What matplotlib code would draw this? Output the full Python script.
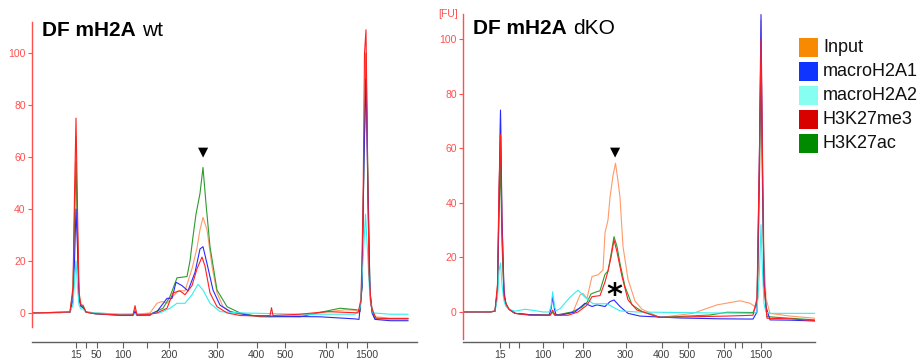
import matplotlib
matplotlib.use("Agg")
import matplotlib.pyplot as plt
from matplotlib.patches import Rectangle

plt.rcParams['font.family'] = ['Liberation Sans', 'DejaVu Sans']

# ---------------- data (migration position, fluorescence FU) ----------------
series_names = ["Input", "macroH2A1", "macroH2A2", "H3K27me3", "H3K27ac"]
legend_colors = ["#f78a00", "#1034ff", "#86fff0", "#d90000", "#008a00"]
line_colors = ["#ff9a6a", "#2a2aff", "#30f0f0", "#ff2020", "#2e9a2e"]

# Left panel: DF mH2A wt
wt_input_x = [32, 60, 70, 73, 74.5, 76, 77.5, 79, 81, 83, 86, 95, 120, 133, 135, 137, 150, 157, 162, 167,
              173, 178, 185, 192, 197, 200, 203, 207, 212, 217, 223, 233, 250, 270, 300, 330, 345, 355,
              360, 362, 364, 366, 368, 370, 372, 375, 390, 408]
wt_input_y = [0, 0, 0.5, 8, 40, 68, 30, 6, 2.5, 2.5, 0.5, 0, -0.5, -0.5, 1.5, -0.5, 0, 3.7, 4.4, 3.7,
              6.3, 8.5, 8.5, 17, 25, 32, 36.8, 32, 18, 7.7, 2.4, 0, -1, -1.5, -1, 0.5, 1.2, 1,
              0.5, 10, 60, 100, 40, 8, 2, -1.5, -2, -2]
wt_mh2a1_x = [32, 70, 73, 74.5, 76, 77.5, 79, 81, 83, 86, 95, 120, 133, 135, 137, 150, 157, 167, 172, 176,
              182, 188, 195, 200, 203, 207, 213, 220, 230, 250, 280, 320, 355, 359, 362, 364, 366, 368,
              370, 372, 375, 390, 408]
wt_mh2a1_y = [0, 0.3, 5, 20, 40, 25, 5, 2.5, 2, 0.3, -0.3, -0.8, -0.8, 0.5, -0.8, -0.5, 0.5, 5.6, 5.6, 11.8,
              10.5, 8.5, 15.6, 24.6, 25.5, 19, 8.8, 3, 0.5, -1, -1.3, -1.5, -2.3, -2.5, 10, 60, 90, 45,
              8, 0, -2.5, -3, -3]
wt_mh2a2_x = [32, 70, 73, 74.5, 76, 77.5, 79, 81, 83, 86, 95, 120, 150, 160, 170, 177, 185, 192, 198, 203,
              210, 220, 240, 300, 355, 360, 363, 365.5, 368, 370, 373, 390, 408]
wt_mh2a2_y = [0, 0.3, 3, 12, 20, 10, 3, 1.5, 1.5, 0.3, 0, -0.5, -0.3, 0, 1.8, 3.7, 3.7, 7, 11, 8.8,
              3.7, 0.5, 0, -0.5, -0.5, 2, 20, 38, 20, 5, 0, -0.5, -0.5]
wt_k27me3_x = [32, 70, 73, 74.5, 76, 77.5, 79, 81, 83, 86, 95, 120, 133, 135, 137, 150, 157, 167, 173, 180,
               185, 192, 197, 202, 205, 210, 217, 227, 240, 260, 270, 271.5, 273, 300, 327, 353, 358, 361,
               363, 364.5, 366, 367.5, 369, 371, 373, 376, 390, 408]
wt_k27me3_y = [0, 0.3, 10, 45, 75, 40, 8, 3, 3, 0.3, -0.3, -0.8, -0.8, 2.8, -0.8, -0.5, 0, 1.8, 7.7, 8.5,
               7, 10.5, 17, 21.5, 18, 7.7, 2.4, 0, -1, -1.2, -1, 2, -1, -0.5, 0.5, 0.1, 0, 5,
               40, 100, 109, 60, 15, 3, 0.5, -2, -2.2, -2.2]
wt_k27ac_x = [32, 70, 73, 74.5, 76, 77.5, 79, 81, 83, 86, 95, 120, 133, 135, 137, 150, 153, 163, 170, 177,
              187, 190, 193, 196, 200, 203, 206, 210, 217, 227, 240, 260, 300, 330, 340, 357, 360, 362,
              364, 366, 368, 370, 372, 375, 390, 408]
wt_k27ac_y = [0, 0.3, 8, 35, 58, 30, 6, 2.5, 2.5, 0.3, -0.3, -1, -1, 0.5, -1, -1, 0, 1.8, 6.3, 13.5,
              14, 20, 29.4, 38, 46, 56, 42, 25.5, 8.8, 2.4, 0, -1.5, -1.5, 1, 1.8, 1.2, 0.5, 10,
              60, 100, 50, 8, 1, -2.3, -2.3, -2.3]

# Right panel: DF mH2A dKO
ko_input_x = [463, 490, 495, 497.5, 499, 500.5, 502, 504, 506, 509, 515, 530, 550, 552, 554, 560, 573, 580,
              583, 587, 592, 598, 603, 605, 608, 610, 613, 615.5, 618, 620, 623, 628, 635, 642, 660, 693,
              717, 740, 750, 755, 758, 759.5, 761, 762.5, 764, 766, 770, 790, 815]
ko_input_y = [0, 0, 0.5, 10, 45, 73, 35, 6, 3, 1, -0.5, -1, -1, 0, -1, -1, 0, 6.2,
              6.8, 5, 13, 13.6, 15.4, 29, 33.7, 42, 50, 54.5, 48, 42, 24, 12, 4, 1, -2, -0.5,
              2.6, 4.1, 3.2, 2, 5, 50, 107, 60, 20, 5, -0.5, -1.5, -2.3]
ko_mh2a1_x = [463, 490, 495, 497.5, 499, 500.5, 502, 504, 506, 509, 515, 530, 549, 551, 552.7, 554.5, 556,
              560, 575, 585, 592, 597, 605, 610, 614, 620, 628, 640, 680, 720, 753, 757, 759.5, 761,
              762.5, 764, 766, 770, 790, 815]
ko_mh2a1_y = [0, 0, 0.3, 8, 40, 74, 34, 8, 2.5, 1, -0.5, -1, -1.2, 1, 5.6, 1, -1,
              -1.2, 0, 3.2, 2, 2.6, 2, 3.8, 4.4, 2, -0.5, -1.5, -2.2, -2.5, -2.6, 0, 60, 109,
              50, 12, 2, -2.9, -3, -3.3]
ko_mh2a2_x = [463, 490, 495, 497.5, 499, 500.5, 502, 504, 506, 509, 515, 525, 535, 543, 549, 551, 552.7,
              554.5, 556, 560, 570, 578, 585, 593, 607, 613, 620, 637, 700, 753, 757, 759.5, 761, 762.5,
              764, 766, 770, 790, 815]
ko_mh2a2_y = [0, 0, 0.3, 5, 15, 18, 10, 4, 2, 1, 0.3, 1, 0.5, 0, 0, 2, 7.4,
              2, 0.5, 1.2, 5.4, 8, 5.4, 3, 3, 1.8, 0.4, 0, -0.3, -0.5, 0, 15, 32, 15,
              3, 0, -0.5, -0.5, -0.5]
ko_k27me3_x = [463, 490, 495, 497.5, 499, 500.5, 502, 504, 506, 509, 515, 530, 550, 552.7, 555, 568, 578,
               587, 592, 600, 605, 608, 611, 614, 617, 622, 628, 637, 660, 727, 753, 757, 759.5, 761,
               762.5, 764, 767, 790, 815]
ko_k27me3_y = [0, 0, 0.3, 10, 45, 65, 30, 6, 3, 1, -0.5, -1.2, -1.2, 0.7, -1.2, -1.2, 0,
               2.5, 5.6, 6, 11, 15, 20, 26.4, 22, 13, 4.4, 0.7, -2, -1.5, -1.2, 5, 60, 99.6,
               55, 10, -2.3, -2.5, -3.2]
ko_k27ac_x = [463, 490, 495, 497.5, 499, 500.5, 502, 504, 506, 509, 515, 530, 550, 552.7, 555, 572, 582,
              587, 591, 595, 600, 605, 608, 611, 614, 617, 620, 625, 632, 642, 660, 710, 727, 753, 757,
              759.5, 761, 762.5, 764, 767, 790, 815]
ko_k27ac_y = [0, 0, 0.3, 8, 35, 55, 25, 6, 3, 1, -0.5, -1, -1.2, 0, -1.2, 0, 1.8,
              3.5, 6.6, 7.2, 7.8, 13.8, 15, 21, 27.6, 24, 17.8, 9.3, 2.6, 0.2, -2, -1.1, -0.1, -0.2, 3,
              50, 93, 45, 10, -1.7, -2.3, -2.9]

# size ladder ticks (bp) and their migration positions
wt_tick_pos = [76.3, 86.3, 96.7, 123, 146.7, 169.3, 216.7, 256.7, 285, 325.7, 337.7, 346.7, 366.7]
ko_tick_pos = [500.3, 509.3, 519.3, 543, 563.3, 583.3, 625.7, 661.7, 687.7, 724.3, 735, 741.7, 760.7]
wt_tick_labels = ["15", "", "50", "100", "", "200", "300", "400", "500", "700", "", "", "1500"]
ko_tick_labels = ["15", "", "", "100", "", "200", "300", "400", "500", "700", "", "", "1500"]
y_ticks = [0, 20, 40, 60, 80, 100]

wt_series = [(wt_input_x, wt_input_y), (wt_mh2a1_x, wt_mh2a1_y), (wt_mh2a2_x, wt_mh2a2_y),
             (wt_k27me3_x, wt_k27me3_y), (wt_k27ac_x, wt_k27ac_y)]
ko_series = [(ko_input_x, ko_input_y), (ko_mh2a1_x, ko_mh2a1_y), (ko_mh2a2_x, ko_mh2a2_y),
             (ko_k27me3_x, ko_k27me3_y), (ko_k27ac_x, ko_k27ac_y)]

# ---------------- figure ----------------
W, H = 920, 359
fig = plt.figure(figsize=(W / 100, H / 100), dpi=100)

def px_axes(l, t, r, b):
    return fig.add_axes([l / W, (H - b) / H, (r - l) / W, (b - t) / H])

ax1 = px_axes(32, 22, 417, 342)
ax2 = px_axes(463, 14, 815, 342)

draw_order = [0, 4, 1, 2, 3]
axis_red = "#ff5050"

def style(ax, xlim, ylim, tpos, tlab, spine_low):
    ax.set_xlim(*xlim)
    ax.set_ylim(*ylim)
    for s in ["top", "right"]:
        ax.spines[s].set_visible(False)
    ax.spines["left"].set_color(axis_red)
    ax.spines["left"].set_linewidth(1.0)
    ax.spines["left"].set_bounds(spine_low, ylim[1])
    ax.spines["bottom"].set_color("#606060")
    ax.spines["bottom"].set_linewidth(1.0)
    ax.set_yticks(y_ticks)
    ax.set_yticklabels([str(v) for v in y_ticks])
    ax.tick_params(axis="y", colors=axis_red, labelcolor=axis_red, labelsize=7.5,
                   length=3, width=0.8, pad=1.5)
    ax.set_xticks(tpos)
    ax.set_xticklabels(tlab)
    ax.tick_params(axis="x", colors="#606060", labelcolor="#404040", labelsize=7.5,
                   length=4, width=0.8, pad=2)
    ax.patch.set_alpha(0)

for ax, series in [(ax1, wt_series), (ax2, ko_series)]:
    for i in draw_order:
        xs, ys = series[i]
        ax.plot(xs, ys, color=line_colors[i], lw=0.8, solid_joinstyle="round")

style(ax1, (32, 417), (-11.2, 112), wt_tick_pos, wt_tick_labels, -5.4)
style(ax2, (463, 815), (-11.0, 109.2), ko_tick_pos, ko_tick_labels, -10)

# titles: bold part followed by regular part, placed after measured width
renderer = fig.canvas.get_renderer()

def title(x_px, y_px, bold, regular, gap_px=6):
    t = fig.text(x_px / W, 1 - y_px / H, bold, fontsize=15, fontweight="bold", va="center", ha="left")
    bb = t.get_window_extent(renderer=renderer)
    fig.text((bb.x1 + gap_px) / W, 1 - y_px / H, regular, fontsize=15, va="center", ha="left")

title(42, 30, "DF mH2A", "wt")
title(473, 28, "DF mH2A", "dKO")
fig.text(448 / W, 1 - 14 / H, "[FU]", fontsize=7.5, color=axis_red, va="center", ha="center")

# annotations
ax1.text(203, 62, "▼", fontsize=9.5, ha="center", va="center", family="DejaVu Sans")
ax2.text(615.5, 58.6, "▼", fontsize=9.5, ha="center", va="center", family="DejaVu Sans")
ax2.text(614, 6.0, "*", fontsize=22, fontweight="bold", ha="center", va="center", family="DejaVu Sans")

# legend
for k, (name, col) in enumerate(zip(series_names, legend_colors)):
    top = 38.3 + k * 24
    fig.patches.append(Rectangle((799 / W, 1 - (top + 19) / H), 19 / W, 19 / H,
                                 transform=fig.transFigure, facecolor=col, edgecolor="none"))
    fig.text(823 / W, 1 - (top + 9.5) / H, name, fontsize=13, va="center", ha="left", color="#111111")

fig.savefig("out.png", dpi=100)
